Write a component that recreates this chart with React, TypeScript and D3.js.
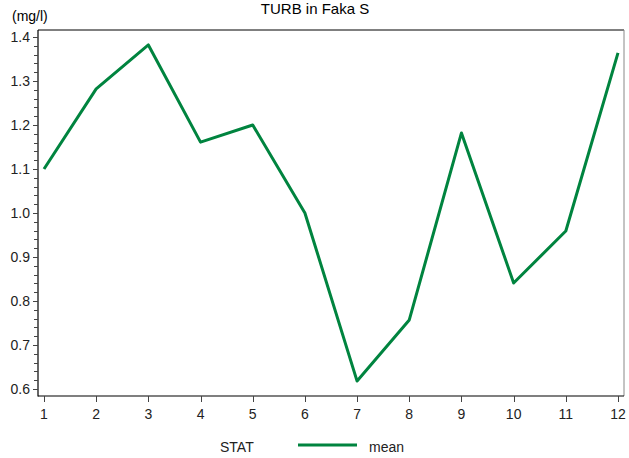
import React from "react";
import * as d3 from "d3";

const months: number[] = [1, 2, 3, 4, 5, 6, 7, 8, 9, 10, 11, 12];
const meanValues: number[] = [1.10, 1.282, 1.382, 1.161, 1.2, 1.0, 0.618, 0.757, 1.182, 0.841, 0.959, 1.364];
const yTickLabels: number[] = [0.6, 0.7, 0.8, 0.9, 1.0, 1.1, 1.2, 1.3, 1.4];
const title = "TURB in Faka S";
const unitLabel = "(mg/l)";
const legendTitle = "STAT";
const seriesName = "mean";

export default function App() {
  const W = 629, H = 458;
  const left = 38, right = 624, top = 30, bottom = 396;
  const x = d3.scaleLinear().domain([1, 12]).range([44, 618]);
  const y = d3.scaleLinear().domain([0.6, 1.4]).range([389, 37]);
  const minorTicks: number[] = d3.range(0.6, 1.4001, 0.02).filter((v) => y(v) >= top && y(v) <= bottom);
  const line = d3.line<number>().x((_, i) => x(months[i])).y((d) => y(d));
  const color = "#00843f";
  const font = "Liberation Sans, Arial, sans-serif";
  return (
    <svg width={W} height={H} style={{ position: "absolute", left: 0, top: 0 }} fontFamily={font}>
      <rect x={0} y={0} width={W} height={H} fill="white" />
      <text x={315} y={14} textAnchor="middle" fontSize={15} fill="#000">{title}</text>
      <text x={12} y={21} fontSize={14} fill="#000">{unitLabel}</text>
      {/* frame */}
      <line x1={left} x2={right} y1={top} y2={top} stroke="#000" strokeWidth={1} />
      <line x1={right} x2={right} y1={top} y2={bottom} stroke="#888" strokeWidth={1} />
      <line x1={left} x2={left} y1={top} y2={bottom + 0.5} stroke="#000" strokeWidth={1.2} />
      <line x1={left} x2={right} y1={bottom} y2={bottom} stroke="#000" strokeWidth={1.2} />
      {/* y ticks */}
      {minorTicks.map((v, i) => (
        <line key={"m" + i} x1={left - 4} x2={left} y1={Math.round(y(v)) + 0.5} y2={Math.round(y(v)) + 0.5} stroke="#444" strokeWidth={1} />
      ))}
      {yTickLabels.map((v) => (
        <g key={"y" + v}>
          <line x1={left - 5} x2={left} y1={Math.round(y(v)) + 0.5} y2={Math.round(y(v)) + 0.5} stroke="#444" strokeWidth={1} />
          <text x={left - 8} y={y(v) + 5} textAnchor="end" fontSize={14} fill="#222">{v.toFixed(1)}</text>
        </g>
      ))}
      {/* x ticks */}
      {months.map((m) => (
        <g key={"x" + m}>
          <line x1={Math.round(x(m)) + 0.5} x2={Math.round(x(m)) + 0.5} y1={bottom} y2={bottom + 6} stroke="#444" strokeWidth={1} />
          <text x={x(m)} y={bottom + 23} textAnchor="middle" fontSize={14} fill="#222">{m}</text>
        </g>
      ))}
      <path d={line(meanValues) || ""} fill="none" stroke={color} strokeWidth={3} strokeLinejoin="round" />
      {/* legend */}
      <text x={220} y={452} fontSize={14} fill="#222">{legendTitle}</text>
      <line x1={298} x2={357} y1={445} y2={445} stroke={color} strokeWidth={3} />
      <text x={369} y={452} fontSize={14} fill="#222">{seriesName}</text>
    </svg>
  );
}
